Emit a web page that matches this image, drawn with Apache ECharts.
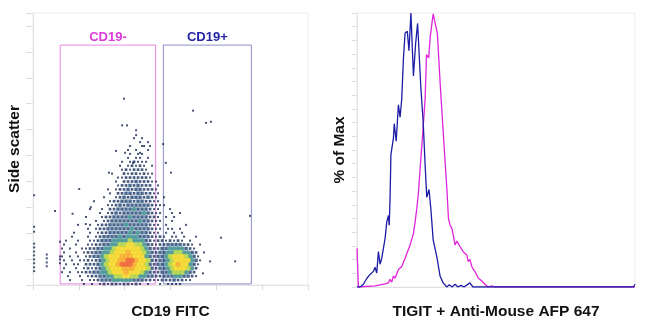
<!DOCTYPE html>
<html><head><meta charset="utf-8">
<script src="https://cdn.jsdelivr.net/npm/echarts@6/dist/echarts.min.js"></script>
<style>html,body{margin:0;padding:0;background:#fff}#c{width:650px;height:325px}</style>
</head><body><div id="c"></div>
<script>
// ===== Left panel: CD19 FITC vs Side scatter (channel units 0-1000) =====
// 2-D density histogram: one character per bin
// ' ' empty, '.' single events, '1'..'2' navy, '3' teal, '4' yellow-green, '5' yellow, '6' orange, '7' red
const densityBinX0 = 105.5, densityBinDX = 14.55;   // centre of first column, bin width (FITC units)
const densityBinY0 = 539.9, densityBinDY = 14.49;   // centre of top row, bin height (SSC units)
const densityLevels = ' .1234567';
const densityRows = [
  '          ' + '        . ' + '.',
  '          ' + '         .' + ' .',
  '          ' + '       .  ' + '. .',
  '          ' + '      . . ' + ' .',
  '          ' + '       . .' + '.',
  '          ' + '      . ..' + ' .',
  '          ' + '     . .1.' + '..',
  '          ' + '    . .1.1' + '. .',
  '          ' + '     .1.11' + '1.',
  '          ' + '  .  1.11.' + '1..',
  '          ' + '    ..1111' + '11.',
  '          ' + '   . 11121' + '11..',
  '          ' + '    .11212' + '111 .',
  '          ' + ' . .112122' + '111.',
  '          ' + '  . 112212' + '211..',
  '          ' + '.  .121222' + '121. .',
  '        . ' + '  .1122212' + '211..',
  '          ' + ' ..1212222' + '221...',
  '       .  ' + '. 11222232' + '221..  .',
  '         .' + ' .12122222' + '321..  . .',
  '      .   ' + '.112222322' + '2211. . .',
  '        . ' + '.122222223' + '221..  .',
  '    .  . .' + '1122223222' + '221.. .   ' + ' .',
  '      . .1' + '1222222322' + '221.. .. .',
  '   .   . .' + '1122222323' + '221.. . . ' + '.',
  '  .   . .1' + '2222323332' + '221.1. .. ' + '.  .',
  ' .  .  ..1' + '2223333433' + '321.11.1.1' + '. .',
  '.  .  ..11' + '2233445544' + '321.112222' + '11. .',
  '. .  ..112' + '2334555555' + '4321122333' + '321.',
  '.  . .1122' + '3345556555' + '4321223344' + '3321 .',
  '. . . .122' + '3455566655' + '5321223455' + '5432.',
  '. . ..1.12' + '3455667765' + '5421223455' + '5532.',
  ' . .. 1112' + '3455677765' + '5421223456' + '5532.',
  '.  . .1.12' + '3455566655' + '5421223455' + '5431',
  '. . ..1122' + '3345556555' + '4321122344' + '4321',
  ' .  . .112' + '2334455443' + '3221122233' + '221.',
  '  .  . ..1' + '2223333322' + '211..11121' + '1..',
  '     . . .' + '1.11.11.1.' + ' .  . ....'
];
// isolated events (FITC, SSC)
const outlierX = [4,4,4,4,4,4,4,4,4,4,4, 50,50,50,50, 98,98,98,98, 80,168,144,210,192,
  331,324,342,375,375,276,302,335,389,404,364, 582,629,647,789,684,735,473,483,502,644,618];
const outlierY = [330,214,196,152,138,123,109,94,80,65,51, 112,98,83,69, 159,105,94,80, 272,353,262,286,224,
  685,587,587,569,551,413,493,486,486,511,449, 641,596,600,254,174,87,518,449,413,87,43];
// gates
const gateNames = ['CD19-', 'CD19+'];
const gateXMin = [99, 474], gateXMax = [446, 794];
const gateYMin = [4, 4],    gateYMax = [882, 882];

// ===== Right panel: TIGIT histogram overlay (% of max) =====
const cd19NegX = [0,5,65,101,113,119,125,131,137,149,155,161,173,179,191,203,209,215,221,228,237,245,250,258,263,274,281,289,299,310,320,324,329,335,341,346,353,359,364,371,382,395,400,406,413,418,424,436,449,460,472,485,496,1000];
const cd19NegY = [14.1,0,0.4,1.1,1.5,2.8,1.8,4.0,3.2,6.4,5.7,7.5,10.5,10.1,15.3,19.5,23.7,28.5,34.5,44.6,56.7,68.6,84.8,83.6,91,99.7,100,92.6,74.6,56.7,41,34.5,25,22.5,21.5,18.9,15.3,16.8,15.9,14.7,12.9,11.7,9.3,10.1,7.5,6.5,5.7,3.3,2.2,1.0,0,0.4,0,0];
const cd19PosX = [0,11,23,35,47,59,65,71,77,83,89,95,101,107,113,116,119,122,131,134,141,149,155,161,167,173,181,187,194,203,211,218,230,238,245,251,259,266,274,287,299,310,323,332,342,353,363,374,385,406,417,560,566,572,646,652,658,994,1000];
const cd19PosY = [0,0,1.0,3.1,4.6,5.7,7.2,5.1,12.9,8.3,10.5,14.1,17.7,23.7,26.1,22.5,32.7,48.3,54.3,59.6,53.2,66.5,62,68.7,83.4,92.7,93.3,86.2,100,77,89,96.2,72.2,60.4,44.6,32.7,35.6,28.1,17.2,11.1,3.9,1.5,0,0.8,0,1.0,0,0.6,0,1.5,0,0,0.6,0,0,0.6,0,0,1.0];

// ===== styles =====
const FONT = '"Liberation Sans", Arial, Helvetica, sans-serif';
const levelStyle = [null,
  {color:'#182a55', size:2,   symbol:'rect'},
  {color:'#18305f', size:2.7, symbol:'rect'},
  {color:'#1b4273', size:3.4, symbol:'rect'},
  {color:'#2a8684', size:4.6, symbol:'circle'},
  {color:'#a6cf3a', size:5.2, symbol:'circle'},
  {color:'#f3d51c', size:5.2, symbol:'circle'},
  {color:'#f6a41e', size:5.2, symbol:'circle'},
  {color:'#ec5526', size:5.2, symbol:'circle'}
];
const gateStyle = [
  {border:'#e486e2', text:'#dd3bdc'},
  {border:'#8d8dca', text:'#2424a6'}
];

const levelData = levelStyle.map(() => []);
densityRows.forEach((row, r) => {
  const stagger = (r % 2) * 0.5;   // hexagonal bin layout
  for (let c = 0; c < row.length; c++) {
    const lv = densityLevels.indexOf(row[c]);
    if (lv > 0) levelData[lv].push([densityBinX0 + (c + stagger) * densityBinDX, densityBinY0 - r * densityBinDY]);
  }
});
outlierX.forEach((x, i) => levelData[1].push([x, outlierY[i]]));

const series = [];
for (let lv = 1; lv < levelStyle.length; lv++) {
  series.push({
    type:'scatter', xAxisIndex:0, yAxisIndex:0, silent:true,
    data: levelData[lv], symbol: levelStyle[lv].symbol, symbolSize: levelStyle[lv].size,
    itemStyle:{color: levelStyle[lv].color}, z: 2 + lv
  });
}
series.push({
  type:'scatter', xAxisIndex:0, yAxisIndex:0, data:[], silent:true, z:20,
  markArea:{
    silent:true,
    data: gateNames.map((g, i) => [
      {name:g, xAxis:gateXMin[i], yAxis:gateYMin[i],
       itemStyle:{color:'rgba(0,0,0,0)', borderColor:gateStyle[i].border, borderWidth:1},
       label:{show:true, position:'top', distance:1, color:gateStyle[i].text, fontWeight:'bold', fontSize:13, fontFamily:FONT}},
      {xAxis:gateXMax[i], yAxis:gateYMax[i]}
    ])
  }
});
series.push({
  type:'line', xAxisIndex:2, yAxisIndex:1, showSymbol:false, silent:true,
  data: cd19NegX.map((x, i) => [x, cd19NegY[i]]),
  lineStyle:{color:'#e024dc', width:1.3}, z:5
});
series.push({
  type:'line', xAxisIndex:2, yAxisIndex:1, showSymbol:false, silent:true,
  data: cd19PosX.map((x, i) => [x, cd19PosY[i]]),
  lineStyle:{color:'#1c1ca6', width:1.3}, z:6
});

const nameStyle = {color:'#111', fontWeight:'bold', fontSize:15.5, fontFamily:FONT};
const faint = '#e2e2e2';
const option = {
  animation:false,
  backgroundColor:'#fff',
  grid:[
    {left:33, top:13, width:275, height:276, show:true, borderColor:'#ececec', borderWidth:1},
    {left:357, top:13, width:278, height:278, show:true, borderColor:'#ececec', borderWidth:1}
  ],
  xAxis:[
    {gridIndex:0, type:'value', position:'bottom', min:0, max:1000, name:'CD19 FITC', nameLocation:'middle', nameGap:19,
     nameTextStyle:nameStyle, axisLine:{show:true, lineStyle:{color:faint}}, axisTick:{show:false},
     axisLabel:{show:false}, splitLine:{show:false}},
    {gridIndex:0, type:'log', position:'bottom', logBase:10, min:1, max:1000000, axisLine:{show:false},
     axisTick:{show:true, length:5, lineStyle:{color:'#d8d8d8'}}, axisLabel:{show:false}, splitLine:{show:false}},
    {gridIndex:1, type:'value', position:'bottom', min:0, max:1000, name:'TIGIT + Anti-Mouse AFP 647', nameLocation:'middle', nameGap:17,
     nameTextStyle:nameStyle, axisLine:{show:true, lineStyle:{color:faint}}, axisTick:{show:false},
     axisLabel:{show:false}, splitLine:{show:false}}
  ],
  yAxis:[
    {gridIndex:0, type:'value', min:0, max:1000, interval:1000/10.5, name:'Side scatter', nameLocation:'middle', nameGap:10,
     nameTextStyle:nameStyle, axisLine:{show:true, lineStyle:{color:faint}},
     axisTick:{show:true, length:7, lineStyle:{color:'#dedede'}}, axisLabel:{show:false}, splitLine:{show:false}},
    {gridIndex:1, type:'value', min:0, max:100, interval:5, name:'% of Max', nameLocation:'middle', nameGap:9,
     nameTextStyle:nameStyle, axisLine:{show:true, lineStyle:{color:faint}},
     axisTick:{show:true, length:5, lineStyle:{color:'#dedede'}}, axisLabel:{show:false}, splitLine:{show:false}}
  ],
  series: series
};
const chart = echarts.init(document.getElementById('c'));
chart.setOption(option);
</script>
</body></html>
